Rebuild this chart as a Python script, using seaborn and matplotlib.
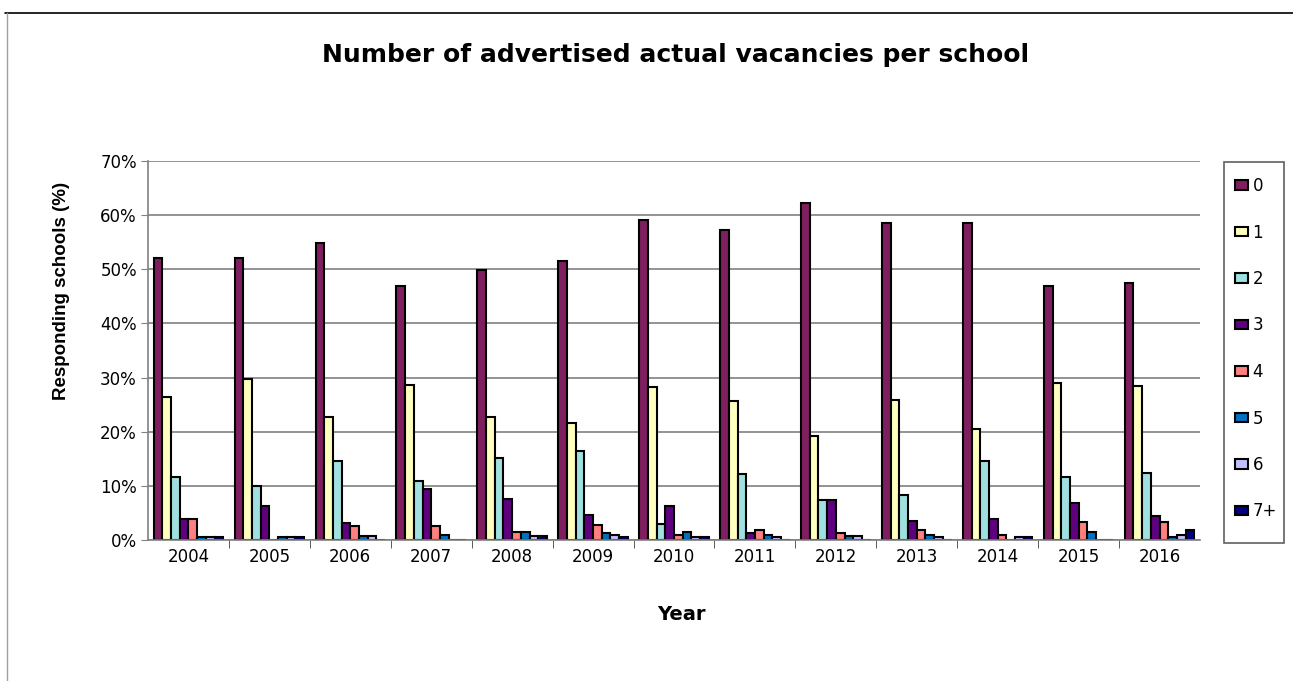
import seaborn as sns
import matplotlib.pyplot as plt
import pandas as pd
from matplotlib.lines import Line2D
from matplotlib.patches import Patch, Rectangle

years = ['2004', '2005', '2006', '2007', '2008', '2009', '2010',
         '2011', '2012', '2013', '2014', '2015', '2016']
vacancy_labels = ['0', '1', '2', '3', '4', '5', '6', '7+']

# % of responding schools, per number of vacancies
vac_0 = [52.1, 52.1, 54.9, 46.9, 49.9, 51.6, 59.1, 57.3, 62.3, 58.6, 58.6, 46.9, 47.5]
vac_1 = [26.5, 29.8, 22.7, 28.7, 22.7, 21.6, 28.2, 25.6, 19.2, 25.8, 20.5, 29.0, 28.5]
vac_2 = [11.7, 10.0, 14.5, 10.9, 15.2, 16.4, 3.0, 12.1, 7.3, 8.4, 14.5, 11.6, 12.4]
vac_3 = [3.9, 6.2, 3.1, 9.4, 7.6, 4.7, 6.2, 1.3, 7.3, 3.5, 3.9, 6.8, 4.4]
vac_4 = [3.9, 0.0, 2.5, 2.5, 1.4, 2.8, 1.0, 1.8, 1.3, 1.9, 1.0, 3.4, 3.3]
vac_5 = [0.5, 0.5, 0.7, 1.0, 1.4, 1.3, 1.4, 0.9, 0.8, 1.0, 0.0, 1.5, 0.5]
vac_6 = [0.5, 0.5, 0.7, 0.0, 0.7, 0.9, 0.5, 0.5, 0.8, 0.5, 0.5, 0.0, 1.0]
vac_7 = [0.5, 0.5, 0.0, 0.0, 0.7, 0.5, 0.5, 0.0, 0.0, 0.0, 0.5, 0.0, 1.8]

colors = ['#7f1f5f', '#ffffc0', '#a0e0e0', '#5f007f',
          '#ff8080', '#0070c0', '#c0c0ff', '#000080']

series = [vac_0, vac_1, vac_2, vac_3, vac_4, vac_5, vac_6, vac_7]
rows = []
for lab, vals in zip(vacancy_labels, series):
    for yr, v in zip(years, vals):
        rows.append({'Year': yr, 'Vacancies': lab, 'Pct': v})
df = pd.DataFrame(rows)

sns.set_style('white')
plt.rcParams['font.family'] = ['DejaVu Sans']
plt.rcParams['text.color'] = 'black'
plt.rcParams['xtick.labelcolor'] = 'black'
plt.rcParams['ytick.labelcolor'] = 'black'

W, H = 1293, 681
fig = plt.figure(figsize=(W / 100, H / 100), dpi=100)
ax = fig.add_axes([148 / W, 1 - 540 / H, 1052 / W, 379 / H])

sns.barplot(data=df, x='Year', y='Pct', hue='Vacancies', hue_order=vacancy_labels,
            palette=colors, saturation=1, width=0.86, gap=0,
            edgecolor='black', linewidth=1.5, legend=False, ax=ax)

ax.set_ylim(0, 70)
ax.set_xlim(-0.5, len(years) - 0.5)
ax.set_yticks(range(0, 71, 10))
ax.set_yticklabels([f'{t}%' for t in range(0, 71, 10)], fontsize=12)
ax.tick_params(axis='x', length=0, labelsize=12, pad=6)
ax.tick_params(axis='y', length=5, color='#808080', left=True, pad=3)
ax.set_xticks([i + 0.5 for i in range(len(years) - 1)], minor=True)
ax.tick_params(axis='x', which='minor', length=6, color='#404040', bottom=True)
ax.yaxis.grid(True, color='#808080', linewidth=1.2)
ax.set_axisbelow(True)
for side in ['top', 'right']:
    ax.spines[side].set_visible(False)
for side in ['left', 'bottom']:
    ax.spines[side].set_color('#808080')
    ax.spines[side].set_linewidth(1.2)
ax.set_xlabel('')
ax.set_ylabel('')

fig.text(676 / W, 1 - 55 / H, 'Number of advertised actual vacancies per school',
         ha='center', va='center', fontsize=18, fontweight='bold')
fig.text(681 / W, 1 - 615 / H, 'Year', ha='center', va='center',
         fontsize=14, fontweight='bold')
fig.text(62 / W, 1 - 291 / H, 'Responding schools (%)', ha='center', va='center',
         rotation=90, fontsize=13.5, fontweight='bold',
         family=['Liberation Sans', 'DejaVu Sans'])

# legend box drawn separately, entries placed inside it
fig.add_artist(Rectangle((1224 / W, 1 - 543 / H), 60 / W, 381 / H, fill=False,
                         edgecolor='#606060', linewidth=1.2,
                         transform=fig.transFigure))
handles = [Patch(facecolor=c, edgecolor='black', linewidth=1.5) for c in colors]
leg = fig.legend(handles, vacancy_labels, loc='upper left',
                 bbox_to_anchor=(1235 / W, 1 - 177 / H),
                 frameon=False, fontsize=12,
                 handlelength=0.8, handleheight=0.5, handletextpad=0.25,
                 labelspacing=1.71, borderpad=0, borderaxespad=0)

# outer chart border (partly visible in the original)
fig.add_artist(Line2D([5 / W, 1], [1 - 13 / H, 1 - 13 / H],
                      color='black', linewidth=1.2, transform=fig.transFigure))
fig.add_artist(Line2D([7 / W, 7 / W], [0, 1 - 13 / H],
                      color='#a0a0a0', linewidth=1.0, transform=fig.transFigure))

fig.savefig('out.png', dpi=100)
